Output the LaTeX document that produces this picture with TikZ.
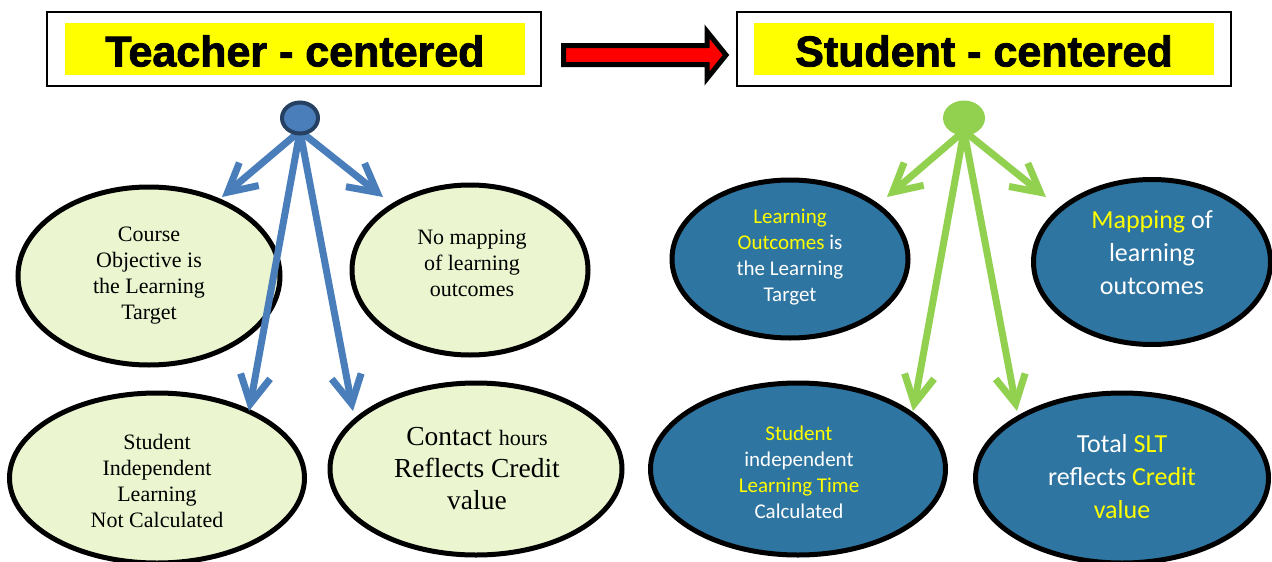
\documentclass[tikz,border=0pt]{standalone}
\usepackage{fontspec}
\setmainfont{Liberation Serif}
\newfontfamily\calib{Carlito}
\newfontfamily\titlefont[BoldFeatures={FakeBold=2}]{Liberation Sans}
\usetikzlibrary{shapes.geometric,arrows.meta}
\definecolor{lgreen}{RGB}{235,246,208}
\definecolor{bfill}{RGB}{46,117,161}
\definecolor{abl}{RGB}{74,126,187}
\definecolor{adark}{RGB}{37,64,97}
\definecolor{agreen}{RGB}{146,208,80}
\definecolor{yel}{RGB}{255,255,0}
\tikzset{
  lell/.style={ellipse, draw=black, line width=5pt, fill=lgreen, inner sep=0pt},
  bell/.style={ellipse, draw=black, line width=5pt, fill=bfill, inner sep=0pt},
  ltext/.style={align=center, inner sep=0pt, text=black, font=\fontsize{22}{26}\selectfont},
  rtext/.style={align=center, inner sep=0pt, text=white, font=\calib\fontsize{21}{26}\selectfont},
  rbig/.style={align=center, inner sep=0pt, text=white, font=\calib\fontsize{26}{33}\selectfont},
  outbox/.style={draw=black, line width=2pt, fill=white, inner sep=0pt},
  yelbox/.style={fill=yel, inner sep=0pt},
  titletext/.style={inner sep=0pt, font=\titlefont\bfseries\fontsize{43}{43}\selectfont},
  barrow/.style={line width=7pt, draw=#1, line cap=round, -{Straight Barb[length=28pt,width=30pt]}},
}
\begin{document}
\begin{tikzpicture}[x=1pt,y=-1pt]
\useasboundingbox (0,0) rectangle (1272,562);
\fill[white] (0,0) rectangle (1272,562);

% title boxes
\node[outbox, minimum width=494pt, minimum height=74pt] (tbox) at (294,49) {};
\node[yelbox, minimum width=460pt, minimum height=52pt] (tyel) at (295,49) {};
\node[titletext] (ttxt) at (295,51) {Teacher - centered};
\node[outbox, minimum width=494pt, minimum height=74pt] (sbox) at (984,49) {};
\node[yelbox, minimum width=460pt, minimum height=52pt] (syel) at (984,49) {};
\node[titletext] (stxt) at (984,51) {Student - centered};

% big red arrow
\draw[line width=5pt, fill=red, line join=miter]
  (563.5,45.5) -- (707,45.5) -- (707,31.5) -- (726,55) -- (707,78.5) -- (707,64.5) -- (563.5,64.5) -- cycle;

% left ellipses
\node[lell, minimum width=262pt, minimum height=178pt] (l1) at (149,276) {};
\node[ltext] (l1t) at (149,276) {Course\\Objective is\\the Learning\\Target};
\node[lell, minimum width=236pt, minimum height=170pt] (l2) at (470,270) {};
\node[ltext] (l2t) at (472,263) {No mapping\\of learning\\outcomes};
\node[lell, minimum width=295pt, minimum height=170pt] (l3) at (157,478) {};
\node[ltext] (l3t) at (157,481) {Student\\Independent\\Learning\\Not Calculated};
\node[lell, minimum width=292pt, minimum height=172pt] (l4) at (476,469) {};
\node[ltext, font=\fontsize{27.5}{32}\selectfont] (l4t) at (477,469) {Contact {\fontsize{22}{26}\selectfont hours}\\Reflects Credit\\value};

% right ellipses
\node[bell, minimum width=236pt, minimum height=158pt] (r1) at (790,259) {};
\node[rtext] (r1t) at (790,257) {{\color{yel}Learning}\\{\color{yel}Outcomes} is\\the Learning\\Target};
\node[bell, minimum width=237pt, minimum height=165pt] (r2) at (1152,262) {};
\node[rbig] (r2t) at (1152,253) {{\color{yel}Mapping} of\\learning\\outcomes};
\node[bell, minimum width=295pt, minimum height=172pt] (r3) at (798,469) {};
\node[rtext] (r3t) at (799,472) {{\color{yel}Student}\\independent\\{\color{yel}Learning Time}\\Calculated};
\node[bell, minimum width=293pt, minimum height=170pt] (r4) at (1122,478) {};
\node[rbig] (r4t) at (1122,477) {Total {\color{yel}SLT}\\reflects {\color{yel}Credit}\\{\color{yel}value}};

% left arrows
\coordinate (ls) at (300,131);
\coordinate (la1) at (222,197);
\coordinate (la2) at (383,197);
\coordinate (la3) at (249,411);
\coordinate (la4) at (353,411);
\draw[barrow=abl] (ls) -- (la1);
\draw[barrow=abl] (ls) -- (la2);
\draw[barrow=abl] (ls) -- (la3);
\draw[barrow=abl] (ls) -- (la4);
\node[ellipse, draw=adark, line width=4pt, fill=abl, minimum width=36pt, minimum height=31pt, inner sep=0pt] (lc) at (300,118) {};

% right arrows
\coordinate (rs) at (964,131);
\coordinate (ra1) at (887,197);
\coordinate (ra2) at (1046,197);
\coordinate (ra3) at (913,411);
\coordinate (ra4) at (1017,411);
\draw[barrow=agreen] (rs) -- (ra1);
\draw[barrow=agreen] (rs) -- (ra2);
\draw[barrow=agreen] (rs) -- (ra3);
\draw[barrow=agreen] (rs) -- (ra4);
\node[ellipse, fill=agreen, minimum width=42pt, minimum height=35pt, inner sep=0pt] (rc) at (964,118) {};
\end{tikzpicture}
\end{document}
